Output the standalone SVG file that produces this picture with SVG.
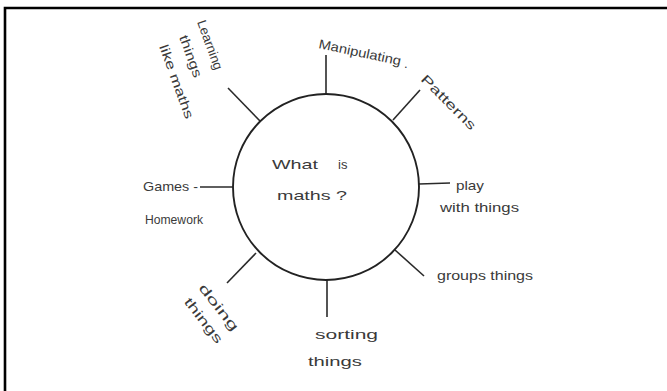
<svg xmlns="http://www.w3.org/2000/svg" width="667" height="391" viewBox="0 0 667 391">
<style>
.t{font-family:"Liberation Sans","DejaVu Sans",sans-serif;font-size:13px;fill:#3a3a3a;}
.c{fill:none;stroke:#2a2a2a;stroke-width:1.6;}
.hub{fill:#ffffff;stroke:#222;stroke-width:1.9;}
.frame{stroke:#000;stroke-width:2.6;fill:none;}
</style>
<rect width="667" height="391" fill="#ffffff"/>
<path class="frame" d="M5,391 V8 H667"/>
<g id="connectors">
<line class="c" x1="260" y1="121" x2="228" y2="88"/>
<line class="c" x1="326" y1="95" x2="326" y2="55"/>
<line class="c" x1="393" y1="120" x2="420" y2="90"/>
<line class="c" x1="419" y1="184" x2="450" y2="183"/>
<line class="c" x1="395" y1="250" x2="424" y2="276"/>
<line class="c" x1="327" y1="279" x2="327" y2="317"/>
<line class="c" x1="256" y1="253" x2="227" y2="283"/>
<line class="c" x1="233" y1="187" x2="200" y2="187"/>
</g>
<g id="hub">
<circle class="hub" cx="326" cy="187" r="93"/>
<text class="t" x="272" y="169" textLength="46" lengthAdjust="spacingAndGlyphs">What</text>
<text class="t" x="338" y="169">is</text>
<text class="t" x="277" y="200" textLength="70" lengthAdjust="spacingAndGlyphs">maths ?</text>
</g>
<g id="n-learning" transform="translate(197,22) rotate(70)">
<text class="t" x="0" y="0" textLength="52" lengthAdjust="spacingAndGlyphs">Learning</text>
<text class="t" x="8" y="22" textLength="44" lengthAdjust="spacingAndGlyphs">things</text>
<text class="t" x="10" y="44" textLength="78" lengthAdjust="spacingAndGlyphs">like maths</text>
</g>
<g id="n-manipulating">
<text class="t" x="318" y="48" transform="rotate(12 318 48)" textLength="84" lengthAdjust="spacingAndGlyphs">Manipulating</text>
<text class="t" x="404" y="68">.</text>
</g>
<g id="n-patterns">
<text class="t" x="420" y="80" transform="rotate(45 420 80)" textLength="72" lengthAdjust="spacingAndGlyphs">Patterns</text>
</g>
<g id="n-play">
<text class="t" x="456" y="190" textLength="28" lengthAdjust="spacingAndGlyphs">play</text>
<text class="t" x="440" y="212" textLength="79" lengthAdjust="spacingAndGlyphs">with things</text>
</g>
<g id="n-groups">
<text class="t" x="437" y="280" textLength="96" lengthAdjust="spacingAndGlyphs">groups things</text>
</g>
<g id="n-sorting">
<text class="t" x="315" y="339" textLength="63" lengthAdjust="spacingAndGlyphs">sorting</text>
<text class="t" x="308" y="366" textLength="54" lengthAdjust="spacingAndGlyphs">things</text>
</g>
<g id="n-doing" transform="translate(198,288) rotate(52)">
<text class="t" x="0" y="0" textLength="56" lengthAdjust="spacingAndGlyphs">doing</text>
<text class="t" x="2" y="20" textLength="54" lengthAdjust="spacingAndGlyphs">things</text>
</g>
<g id="n-games">
<text class="t" x="143" y="191" textLength="55" lengthAdjust="spacingAndGlyphs">Games -</text>
<text class="t" x="145" y="224" textLength="58" lengthAdjust="spacingAndGlyphs">Homework</text>
</g>
</svg>
